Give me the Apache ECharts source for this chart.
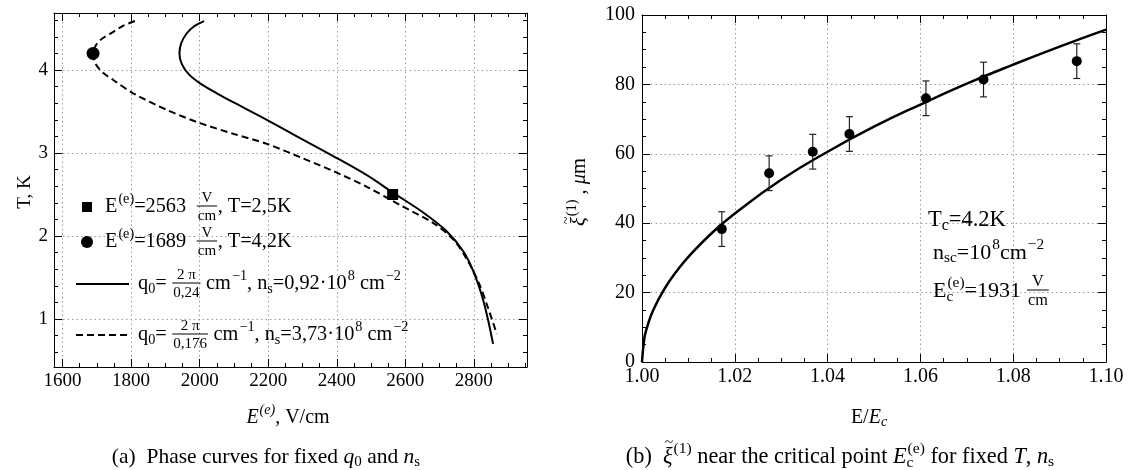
<!DOCTYPE html>
<html><head><meta charset="utf-8">
<script src="https://cdn.jsdelivr.net/npm/echarts@6/dist/echarts.min.js"></script>
<style>html,body{margin:0;padding:0;background:#fff}#c{width:1133px;height:470px}</style>
</head><body><div id="c"></div>
<script>
// ---------------- data ----------------
const leftXTicks = [1600, 1800, 2000, 2200, 2400, 2600, 2800];
const leftXMinor = [1650,1700,1750,1850,1900,1950,2050,2100,2150,2250,2300,2350,2450,2500,2550,2650,2700,2750,2850,2900,2950];
const leftYTicks = [1, 2, 3, 4];
const leftYMinor = [0.6,0.8,1.2,1.4,1.6,1.8,2.2,2.4,2.6,2.8,3.2,3.4,3.6,3.8,4.2,4.4,4.6];
const rightXTicks = [1.00, 1.02, 1.04, 1.06, 1.08, 1.10];
const rightXLabels = ['1.00', '1.02', '1.04', '1.06', '1.08', '1.10'];
const rightYTicks = [0, 20, 40, 60, 80, 100];

// solid curve: q0 = 2π/0,24, ns = 0,92e8   [E, T]
const solidCurve = [[2013,4.59],[1985,4.53],[1962,4.44],[1946,4.32],[1941,4.20],[1948,4.07],[1968,3.95],[2001,3.84],[2050,3.72],[2099,3.61],[2196,3.40],[2293,3.18],[2391,2.96],[2489,2.73],[2565,2.52],[2650,2.29],[2720,2.06],[2770,1.81],[2800,1.56],[2825,1.26],[2842,0.98],[2856,0.70]];
// dashed curve: q0 = 2π/0,176, ns = 3,73e8   [E, T]
const dashedCurve = [[1811,4.59],[1775,4.53],[1748,4.46],[1716,4.38],[1699,4.31],[1689,4.20],[1697,4.07],[1720,3.96],[1748,3.88],[1806,3.72],[1904,3.52],[2001,3.36],[2100,3.23],[2196,3.11],[2293,2.95],[2391,2.78],[2489,2.59],[2586,2.37],[2684,2.15],[2742,1.95],[2781,1.71],[2815,1.43],[2840,1.15],[2867,0.82]];
const squarePoint = [[2563, 2.5]];
const circlePoint = [[1689, 4.2]];

// right panel
const fitX = [1.000,1.0005,1.001,1.0025,1.005,1.0075,1.010,1.015,1.020,1.030,1.040,1.050,1.060,1.070,1.080,1.090,1.100];
const fitY = [0,6.8,9.6,15.2,21.4,26.2,30.3,37.1,42.8,52.5,60.6,67.8,74.2,80.2,85.7,90.9,95.8];
const ptsX = [1.0172,1.0274,1.0368,1.0447,1.0612,1.0736,1.0937];
const ptsY = [38.3,54.4,60.6,65.7,76.0,81.4,86.7];
const ptsErr = [5,5,5,5,5,5,5];

// ---------------- text helpers ----------------
const FFQ = '"Liberation Serif", "Times New Roman", serif';
const cv = document.createElement('canvas').getContext('2d');
function fontStr(size, it){ return (it?'italic ':'') + size + 'px ' + FFQ; }
function mw(s, size, it){ cv.font = fontStr(size, it); return cv.measureText(s).width; }
function txt(s, x, y, size, it, ha, va){
  ha = ha || 'left'; va = va || 'middle';
  return {type:'text', silent:true, style:{text:s, x:x, y:y, fill:'#000',
    font:fontStr(size, it),
    textAlign:ha, textVerticalAlign:va, align:ha, verticalAlign:va}};
}
function mtext(pieces, X, Y, size, align, rot){
  const els = []; let x = 0;
  const ss = size*0.7;
  for (const p of pieces){
    if (p.t !== undefined){
      els.push(txt(p.t, x, 0, size, p.i));
      const w = mw(p.t, size, p.i);
      if (p.tilde){ const tw = mw('~', size*0.7); els.push(txt('~', x + w/2 - tw/2 + size*0.06, -size*0.62, size*0.7)); }
      x += w;
    } else if (p.sup !== undefined){
      els.push(txt(p.sup, x+1, -size*0.36, ss, p.i)); x += mw(p.sup, ss, p.i)+1;
    } else if (p.sub !== undefined){
      els.push(txt(p.sub, x, size*0.24, ss, p.i)); x += mw(p.sub, ss, p.i);
    } else if (p.subsup){
      els.push(txt(p.subsup[0], x, size*0.26, ss, p.i));
      els.push(txt(p.subsup[1], x+1, -size*0.38, ss, p.i));
      x += Math.max(mw(p.subsup[0], ss, p.i), mw(p.subsup[1], ss, p.i)+1);
    } else if (p.frac){
      const fs = size*0.74;
      const wn = mw(p.frac[0], fs), wd = mw(p.frac[1], fs);
      const w = Math.max(wn, wd) + 3;
      els.push(txt(p.frac[0], x + (w-wn)/2, -size*0.42, fs));
      els.push(txt(p.frac[1], x + (w-wd)/2, size*0.45, fs));
      els.push({type:'line', silent:true, shape:{x1:x+0.5, y1:-1, x2:x+w-0.5, y2:-1}, style:{stroke:'#000', lineWidth:1}});
      x += w;
    }
  }
  const off = align === 'center' ? -x/2 : (align === 'right' ? -x : 0);
  return {type:'group', x:X, y:Y, rotation: rot || 0,
    children:[{type:'group', x:off, y:0, children:els}]};
}

// ---------------- chart ----------------
const chart = echarts.init(document.getElementById('c'), null, {renderer:'canvas'});
const black = '#000';
const gridLine = {show:true, lineStyle:{color:'#9a9a9a', width:1, type:[1.5,3]}};
const base = (extra) => Object.assign({type:'value', axisLine:{show:true, onZero:false, lineStyle:{color:black, width:1}},
  splitLine:{show:false}, axisLabel:{show:false}}, extra);

const xAxes = [
  base({gridIndex:0, position:'bottom', min:1575, max:2955,
    axisTick:{inside:true, length:8, customValues:leftXTicks, lineStyle:{color:black}}, splitLine:gridLine}),
  base({gridIndex:0, position:'bottom', min:1575, max:2955, axisLine:{show:false},
    axisTick:{inside:true, length:4, customValues:leftXMinor, lineStyle:{color:black}}}),
  base({gridIndex:0, position:'top', min:1575, max:2955,
    axisTick:{inside:true, length:8, customValues:leftXTicks, lineStyle:{color:black}}}),
  base({gridIndex:0, position:'top', min:1575, max:2955, axisLine:{show:false},
    axisTick:{inside:true, length:4, customValues:leftXMinor, lineStyle:{color:black}}}),
  base({gridIndex:1, position:'bottom', min:1.0, max:1.1, interval:0.02,
    axisTick:{inside:true, length:8, lineStyle:{color:black}},
    minorTick:{show:true, splitNumber:4, length:4, lineStyle:{color:black}}, splitLine:gridLine}),
  base({gridIndex:1, position:'top', min:1.0, max:1.1, interval:0.02,
    axisTick:{inside:true, length:8, lineStyle:{color:black}},
    minorTick:{show:true, splitNumber:4, length:4, lineStyle:{color:black}}})
];
const yAxes = [
  base({gridIndex:0, position:'left', min:0.422, max:4.687,
    axisTick:{inside:true, length:8, customValues:leftYTicks, lineStyle:{color:black}}, splitLine:gridLine}),
  base({gridIndex:0, position:'left', min:0.422, max:4.687, axisLine:{show:false},
    axisTick:{inside:true, length:4, customValues:leftYMinor, lineStyle:{color:black}}}),
  base({gridIndex:0, position:'right', min:0.422, max:4.687,
    axisTick:{inside:true, length:8, customValues:leftYTicks, lineStyle:{color:black}}}),
  base({gridIndex:0, position:'right', min:0.422, max:4.687, axisLine:{show:false},
    axisTick:{inside:true, length:4, customValues:leftYMinor, lineStyle:{color:black}}}),
  base({gridIndex:1, position:'left', min:0, max:100, interval:20,
    axisTick:{inside:true, length:8, lineStyle:{color:black}},
    minorTick:{show:true, splitNumber:4, length:4, lineStyle:{color:black}}, splitLine:gridLine}),
  base({gridIndex:1, position:'right', min:0, max:100, interval:20,
    axisTick:{inside:true, length:8, lineStyle:{color:black}},
    minorTick:{show:true, splitNumber:4, length:4, lineStyle:{color:black}}})
];

const fitData = fitX.map((x,i)=>[x, fitY[i]]);
const ptsData = ptsX.map((x,i)=>[x, ptsY[i]]);
const errData = ptsX.map((x,i)=>[x, ptsY[i]-ptsErr[i], ptsY[i]+ptsErr[i]]);

const LG = 20.3;
const graphics = [
  // legend (left panel)
  {type:'rect', silent:true, shape:{x:82, y:202, width:10, height:10}, style:{fill:black}},
  mtext([{t:'E'},{sup:'(e)'},{t:'=2563  '},{frac:['V','cm']},{t:', T=2,5K'}], 105, 207, LG, 'left'),
  {type:'circle', silent:true, shape:{cx:87, cy:242, r:6}, style:{fill:black}},
  mtext([{t:'E'},{sup:'(e)'},{t:'=1689  '},{frac:['V','cm']},{t:', T=4,2K'}], 105, 242, LG, 'left'),
  {type:'line', silent:true, shape:{x1:76, y1:284, x2:129, y2:284}, style:{stroke:black, lineWidth:2}},
  mtext([{t:'q'},{sub:'0'},{t:'= '},{frac:['2 π','0,24']},{t:' cm'},{sup:'−1'},{t:', n'},{sub:'s'},{t:'=0,92·10'},{sup:'8'},{t:' cm'},{sup:'−2'}], 138, 284, LG, 'left'),
  {type:'line', silent:true, shape:{x1:76, y1:335, x2:129, y2:335}, style:{stroke:black, lineWidth:2, lineDash:[7,4]}},
  mtext([{t:'q'},{sub:'0'},{t:'= '},{frac:['2 π','0,176']},{t:' cm'},{sup:'−1'},{t:', n'},{sub:'s'},{t:'=3,73·10'},{sup:'8'},{t:' cm'},{sup:'−2'}], 138, 335, LG, 'left'),
  // annotation (right panel)
  mtext([{t:'T'},{sub:'c'},{t:'=4.2K'}], 928, 220, 22.5, 'left'),
  mtext([{t:'n'},{sub:'sc'},{t:'=10'},{sup:'8'},{t:'cm'},{sup:'−2'}], 933, 253, 22, 'left'),
  mtext([{t:'E'},{subsup:['c','(e)']},{t:'=1931 '},{frac:['V','cm']}], 933, 291, 22, 'left'),
  // axis titles
  mtext([{t:'E',i:true},{sup:'(e)',i:true},{t:', V/cm'}], 288, 418, 20, 'center'),
  mtext([{t:'E/'},{t:'E',i:true},{sub:'c',i:true}], 869, 418, 20, 'center'),
  mtext([{t:'T, K'}], 25, 192, 19, 'center', Math.PI/2),
  mtext([{t:'ξ',i:true,tilde:true},{sup:'(1)'},{t:' , '},{t:'μ',i:true},{t:'m'}], 580, 192, 20.5, 'center', Math.PI/2),
  // captions
  mtext([{t:'(a)  Phase curves for fixed '},{t:'q',i:true},{sub:'0'},{t:' and '},{t:'n',i:true},{sub:'s'}], 266, 457, 21.5, 'center'),
  mtext([{t:'(b)  '},{t:'ξ',i:true,tilde:true},{sup:'(1)'},{t:' near the critical point '},{t:'E',i:true},{subsup:['c','(e)']},{t:' for fixed '},{t:'T',i:true},{t:', '},{t:'n',i:true},{sub:'s'}], 840, 457, 22.3, 'center')
];

chart.setOption({
  animation:false,
  backgroundColor:'#fff',
  grid:[
    {left:54, top:13, width:473, height:354},
    {left:642, top:15, width:464, height:347}
  ],
  xAxis:xAxes,
  yAxis:yAxes,
  series:[
    {type:'line', xAxisIndex:0, yAxisIndex:0, data:solidCurve, symbol:'none', smooth:0.3,
      lineStyle:{color:black, width:2}, z:3},
    {type:'line', xAxisIndex:0, yAxisIndex:0, data:dashedCurve, symbol:'none', smooth:0.3,
      lineStyle:{color:black, width:2, type:[7,4]}, z:3},
    {type:'scatter', xAxisIndex:0, yAxisIndex:0, data:squarePoint, symbol:'rect', symbolSize:11,
      itemStyle:{color:black, opacity:1}, z:4},
    {type:'scatter', xAxisIndex:0, yAxisIndex:0, data:circlePoint, symbol:'circle', symbolSize:13,
      itemStyle:{color:black, opacity:1}, z:4},
    {type:'line', xAxisIndex:4, yAxisIndex:4, data:fitData, symbol:'none', smooth:true,
      lineStyle:{color:black, width:2.5}, z:3},
    {type:'custom', xAxisIndex:4, yAxisIndex:4, data:errData, z:4,
      renderItem:function(params, api){
        const lo = api.coord([api.value(0), api.value(1)]);
        const hi = api.coord([api.value(0), api.value(2)]);
        const c = 3.5;
        const st = {stroke:'#222', lineWidth:1.2};
        return {type:'group', children:[
          {type:'line', shape:{x1:lo[0], y1:lo[1], x2:hi[0], y2:hi[1]}, style:st},
          {type:'line', shape:{x1:lo[0]-c, y1:lo[1], x2:lo[0]+c, y2:lo[1]}, style:st},
          {type:'line', shape:{x1:hi[0]-c, y1:hi[1], x2:hi[0]+c, y2:hi[1]}, style:st}
        ]};
      }},
    {type:'scatter', xAxisIndex:4, yAxisIndex:4, data:ptsData, symbol:'circle', symbolSize:10,
      itemStyle:{color:black, opacity:1}, z:5}
  ]
});

// tick labels placed through the axes' own scales (serif font)
const tickLabels = [];
const lBottom = chart.convertToPixel({yAxisIndex:0}, 0.422);
const lLeft = chart.convertToPixel({xAxisIndex:0}, 1575);
leftXTicks.forEach(v => tickLabels.push(txt(String(v), chart.convertToPixel({xAxisIndex:0}, v), lBottom + 5, 19, false, 'center', 'top')));
leftYTicks.forEach(v => tickLabels.push(txt(String(v), lLeft - 6, chart.convertToPixel({yAxisIndex:0}, v), 19, false, 'right', 'middle')));
const rBottom = chart.convertToPixel({yAxisIndex:4}, 0);
const rLeft = chart.convertToPixel({xAxisIndex:4}, 1.0);
rightXTicks.forEach((v,i) => tickLabels.push(txt(rightXLabels[i], chart.convertToPixel({xAxisIndex:4}, v), rBottom + 5, 20, false, 'center', 'top')));
rightYTicks.forEach(v => tickLabels.push(txt(String(v), rLeft - 7, chart.convertToPixel({yAxisIndex:4}, v), 20, false, 'right', 'middle')));

chart.setOption({graphic: graphics.concat(tickLabels)});
</script>
</body></html>
